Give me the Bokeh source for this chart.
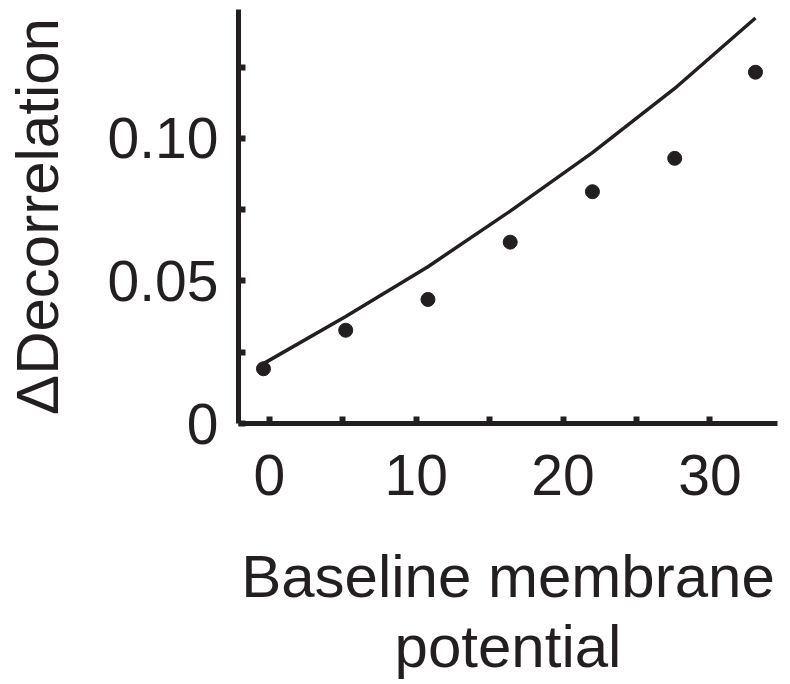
from bokeh.plotting import figure
from bokeh.models import FixedTicker, Range1d
from bokeh.embed import file_html
from bokeh.resources import INLINE

# Data
baseline_potential = [-0.4, 5.2, 10.8, 16.4, 22.0, 27.6, 33.1]
delta_decorrelation = [0.0192, 0.0327, 0.0435, 0.0636, 0.0813, 0.0930, 0.1232]
fit_x = [-0.4, 5.2, 10.8, 16.4, 22.0, 27.6, 33.1]
fit_y = [0.021, 0.0375, 0.0550, 0.0745, 0.0950, 0.1175, 0.1422]

x_major_ticks = [0, 10, 20, 30]
x_minor_ticks = [5, 15, 25]
y_major_ticks = [0, 0.05, 0.10]
y_minor_ticks = [0.025, 0.075, 0.125]
y_tick_labels = ["0", "0.05", "0.10"]

INK = "#231f20"
FONT = "Liberation Sans"

p = figure(frame_width=539, frame_height=414,
           x_range=Range1d(-2.1, 34.6), y_range=Range1d(0, 0.1452),
           output_backend="svg", toolbar_location=None,
           min_border_left=234, min_border_right=7,
           min_border_top=9, min_border_bottom=253)

p.line(fit_x, fit_y, line_color=INK, line_width=3.5)
p.scatter(baseline_potential, delta_decorrelation, size=14,
          fill_color=INK, line_color=INK)

p.xgrid.visible = False
p.ygrid.visible = False
p.outline_line_color = None
p.background_fill_color = "white"

p.xaxis.ticker = FixedTicker(ticks=x_major_ticks, minor_ticks=x_minor_ticks)
p.yaxis.ticker = FixedTicker(ticks=y_major_ticks, minor_ticks=y_minor_ticks)
p.yaxis.major_label_overrides = dict(zip(y_major_ticks, y_tick_labels))

p.xaxis.axis_label = "Baseline membrane\npotential"
p.yaxis.axis_label = "\u0394Decorrelation"

for ax in (p.xaxis[0], p.yaxis[0]):
    ax.axis_line_width = 5
    ax.axis_line_color = INK
    ax.major_tick_in = 7
    ax.major_tick_out = 0
    ax.minor_tick_in = 7
    ax.minor_tick_out = 0
    ax.major_tick_line_width = 6
    ax.minor_tick_line_width = 6
    ax.major_tick_line_color = INK
    ax.minor_tick_line_color = INK
    ax.major_label_text_font = FONT
    ax.major_label_text_font_size = "57px"
    ax.major_label_text_color = INK
    ax.axis_label_text_font = FONT
    ax.axis_label_text_font_size = "60px"
    ax.axis_label_text_font_style = "normal"
    ax.axis_label_text_color = INK

p.xaxis.axis_label_text_line_height = 1.05
p.xaxis.major_label_standoff = 31
p.yaxis.major_label_standoff = 20
p.xaxis.axis_label_standoff = 45
p.yaxis.axis_label_standoff = 34

open("out.html", "w").write(file_html(p, INLINE))
